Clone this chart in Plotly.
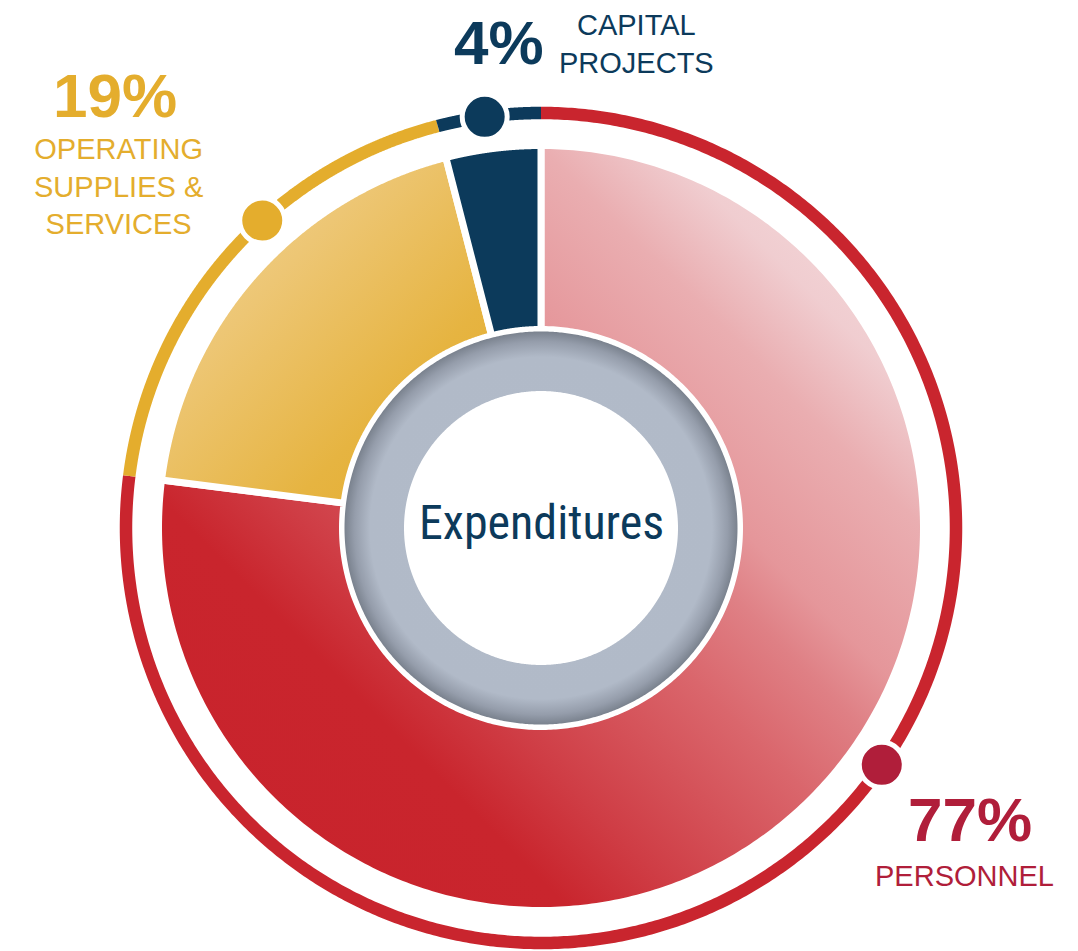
import numpy as np
import plotly.graph_objects as go

# ---------------- data ----------------
categories = ["Personnel", "Operating Supplies & Services", "Capital Projects"]
shares = [77, 19, 4]
pct_labels = ["77%", "19%", "4%"]
name_labels = ["PERSONNEL", "OPERATING<br>SUPPLIES &<br>SERVICES", "CAPITAL<br>PROJECTS"]
center_title = "Expenditures"

# ---------------- styles / layout constants ----------------
W, H = 1078, 951
CX, CY = 541, 528
R_OUT, R_IN = 382.5, 198.5      # slice polygon radii (white outline trims 3.5px)
R_GRAY, R_HOLE = 196.5, 137
R_RING = 415

ring_colors = ["#c9252e", "#e4ad2d", "#0c3a5b"]
dot_colors = ["#b01e3a", "#e4ad2d", "#0c3a5b"]
text_colors = ["#b01e3a", "#e4ad2d", "#0c3a5b"]
uids = ["personnel", "operating", "capital"]
fill_scales = [
    [[0.0, "#c8222c"], [0.27, "#c9252d"], [0.35, "#cf3d45"], [0.5, "#da666c"],
     [0.58, "#df8085"], [0.63, "#e5969a"], [0.75, "#eaaeb1"], [0.83, "#f0cdd0"],
     [0.9, "#f3d6d8"], [1.0, "#f6e2e3"]],
    [[0.0, "#f3d899"], [0.35, "#edc674"], [0.7, "#e6b441"], [1.0, "#e3ab2c"]],
    None,
]
solid_fill = [None, None, "#0c3a5b"]
dot_angles = [124.8, 317.8, 352.2]
pct_pos = [(970, 819.5), (115, 95.5), (498.5, 42.5)]
name_pos = [(964, 875.5), (118, 186), (636, 44)]
FONT = "Liberation Sans, Arial, Helvetica, sans-serif"
TITLE_FONT = ("Noto Sans ExtraCondensed, Noto Sans Condensed, Roboto Condensed, "
              "Open Sans Condensed, Liberation Sans Narrow, DejaVu Sans Condensed, sans-serif")


def pt(theta_deg, r):
    t = np.radians(theta_deg)
    return CX + r * np.sin(t), CY - r * np.cos(t)


fracs = np.array(shares, dtype=float) / float(sum(shares))
ends = np.cumsum(fracs) * 360.0
starts = ends - fracs * 360.0

fig = go.Figure()

# main donut slices
for i in range(len(shares)):
    th = np.linspace(starts[i], ends[i], 400)
    xo, yo = pt(th, R_OUT)
    xi, yi = pt(th[::-1], R_IN)
    xs = np.concatenate([xo, xi, xo[:1]])
    ys = np.concatenate([yo, yi, yo[:1]])
    kw = dict(x=xs, y=ys, mode="lines", fill="toself", uid=uids[i],
              line=dict(color="white", width=7, simplify=False), hoverinfo="skip",
              showlegend=False, name=categories[i])
    if fill_scales[i] is not None:
        kw["fillgradient"] = dict(type="horizontal", colorscale=fill_scales[i])
    else:
        kw["fillcolor"] = solid_fill[i]
    fig.add_trace(go.Scatter(**kw))

# gray ring (radial shading) and white hole
thc = np.linspace(0, 360, 721)
gx, gy = pt(thc, R_GRAY)
fig.add_trace(go.Scatter(
    x=gx, y=gy, mode="lines", fill="toself",
    line=dict(width=0, color="rgba(0,0,0,0)", simplify=False),
    fillgradient=dict(type="radial", colorscale=[[0, "#b2bbc9"], [0.87, "#b1bac8"],
                                                 [0.95, "#959dab"], [1, "#7a828e"]]),
    hoverinfo="skip", showlegend=False, uid="grayring"))
hx, hy = pt(thc, R_HOLE)
fig.add_trace(go.Scatter(
    x=hx, y=hy, mode="lines", fill="toself", fillcolor="white",
    line=dict(width=0, color="white", simplify=False), hoverinfo="skip", showlegend=False))

# outer thin ring
for i in range(len(shares)):
    th = np.linspace(starts[i], ends[i], 600)
    rx, ry = pt(th, R_RING)
    fig.add_trace(go.Scatter(x=rx, y=ry, mode="lines",
                             line=dict(color=ring_colors[i], width=12.5, simplify=False),
                             hoverinfo="skip", showlegend=False))

# dots
for i in range(len(shares)):
    dx, dy = pt(np.array([dot_angles[i]]), R_RING)
    fig.add_trace(go.Scatter(x=dx, y=dy, mode="markers",
                             marker=dict(size=45, color=dot_colors[i],
                                         line=dict(color="white", width=5)),
                             hoverinfo="skip", showlegend=False))

# labels
ann = []
for i in range(len(shares)):
    ann.append(dict(x=pct_pos[i][0], y=pct_pos[i][1], text=pct_labels[i],
                    showarrow=False, xanchor="center", yanchor="middle",
                    font=dict(family=FONT, size=62, color=text_colors[i], weight=700)))
    ann.append(dict(x=name_pos[i][0], y=name_pos[i][1], text=name_labels[i],
                    showarrow=False, xanchor="center", yanchor="middle", align="center",
                    font=dict(family=FONT, size=29, color=text_colors[i])))
ann.append(dict(x=CX, y=522, text=center_title, showarrow=False,
                xanchor="center", yanchor="middle",
                font=dict(family=TITLE_FONT, size=48, color="#0c3a5b")))

fig.update_layout(
    width=W, height=H, margin=dict(l=0, r=0, t=0, b=0),
    paper_bgcolor="white", plot_bgcolor="white",
    xaxis=dict(range=[0, W], visible=False, fixedrange=True),
    yaxis=dict(range=[H, 0], visible=False, fixedrange=True),
    annotations=ann, showlegend=False,
)

post = """
document.body.style.margin = '0';
var gd = document.getElementById('{plot_id}');
function fixGrad(){
  var specs = {personnel: [1, 0, 0, 1], operating: [1, 1, 0, 0]};
  Object.keys(specs).forEach(function(k){
    gd.querySelectorAll('linearGradient[id*="' + k + '"]').forEach(function(g){
      var v = specs[k];
      g.setAttribute('gradientUnits', 'objectBoundingBox');
      g.setAttribute('x1', v[0]); g.setAttribute('y1', v[1]);
      g.setAttribute('x2', v[2]); g.setAttribute('y2', v[3]);
    });
  });
}
fixGrad();
gd.on('plotly_afterplot', fixGrad);
"""

fig.write_html("out.html", config={"displayModeBar": False}, post_script=post)
